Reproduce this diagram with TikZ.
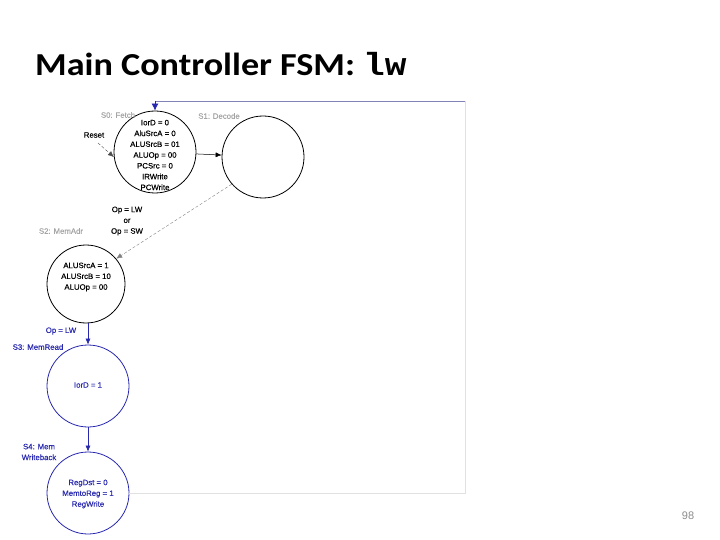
\documentclass[tikz,border=0pt]{standalone}
\usepackage{fontspec}
\setmainfont{Liberation Sans}
\newfontfamily\titlefont{Carlito}
\newfontfamily\codefont{Liberation Mono}
\newfontfamily\diafont[FakeBold=0.35]{Liberation Sans}
\usetikzlibrary{arrows.meta}
\definecolor{fsmblue}{RGB}{40,40,175}
\definecolor{labelgray}{RGB}{165,165,165}
\definecolor{loopgray}{RGB}{225,225,225}
\definecolor{topblue}{RGB}{130,130,185}
\definecolor{pagegray}{RGB}{140,140,140}
\begin{document}
\begin{tikzpicture}[x=1pt,y=-1pt,
  state/.style={circle, draw=black, line width=0.8pt, minimum size=82pt, inner sep=0pt},
  bstate/.style={state, draw=fsmblue},
  txt/.style={font=\diafont\fontsize{7.8}{10.8}\selectfont, align=center, inner sep=0pt},
  glabel/.style={txt, text=labelgray},
  blabel/.style={txt, text=fsmblue},
  arr/.style={-{Latex[length=6pt,width=5pt]}, line width=0.5pt},
  thinarr/.style={-{Latex[length=6pt,width=5pt]}, line width=0.4pt, draw=gray, densely dashed}
]
\useasboundingbox (0,0) rectangle (720,540);

% title
\node[anchor=base west, inner sep=0pt, font=\titlefont\bfseries\fontsize{32}{36}\selectfont] (title) at (35,76) {\scalebox{1.13}[1]{Main Controller FSM: {\codefont\bfseries lw}}};
\node[font=\fontsize{11}{13}\selectfont, text=pagegray] (pg) at (688,516) {98};

% states
\node[state] (s0) at (155,152) {};
\node[state] (s1) at (263,157) {};
\node[state, minimum size=78pt] (s2) at (86,284) {};
\node[bstate] (s3) at (88,386) {};
\node[bstate] (s4) at (88,493) {};

% state contents
\node[txt] (s0t) at (155,155) {IorD = 0\\AluSrcA = 0\\ALUSrcB = 01\\ALUOp = 00\\PCSrc = 0\\IRWrite\\PCWrite};
\node[txt] (s2t) at (86,277) {ALUSrcA = 1\\ALUSrcB = 10\\ALUOp = 00};
\node[blabel] (s3t) at (88,385) {IorD = 1};
\node[blabel] (s4t) at (88,494) {RegDst = 0\\MemtoReg = 1\\RegWrite};

% state names
\node[glabel] (n0) at (118,115) {S0: Fetch};
\node[glabel] (n1) at (219,116) {S1: Decode};
\node[glabel] (n2) at (61,231) {S2: MemAdr};
\node[blabel] (n3) at (38,347) {S3: MemRead};
\node[blabel] (n4) at (39,452) {S4: Mem\\Writeback};

% reset
\node[txt] (reset) at (94,135) {Reset};
\coordinate (rs) at (98,143);
\draw[thinarr, draw=black!70] (rs) -- (s0.187);

% transitions
\draw[arr] (s0) -- (s1);
\draw[thinarr] (s1.221) -- (s2.40);
\node[txt] (c12) at (127,221) {Op = LW\\or\\Op = SW};
\draw[arr, draw=fsmblue, fill=fsmblue] (s2.south -| s3.north) -- (s3.north);
\node[blabel] (c23) at (61,331) {Op = LW};
\draw[arr, draw=fsmblue, fill=fsmblue] (s3) -- (s4);

% loop back
\coordinate (l1) at (465,493);
\coordinate (l2) at (465,101);
\coordinate (l3) at (155,101);
\draw[loopgray, line width=0.8pt] (s4.east) -- (l1) -- (l2);
\draw[topblue, line width=0.8pt] (l2) -- (l3);
\draw[-{Latex[length=7pt,width=7pt]}, draw=fsmblue, fill=fsmblue, line width=0.8pt] (l3) -- (s0.north);
\end{tikzpicture}
\end{document}
